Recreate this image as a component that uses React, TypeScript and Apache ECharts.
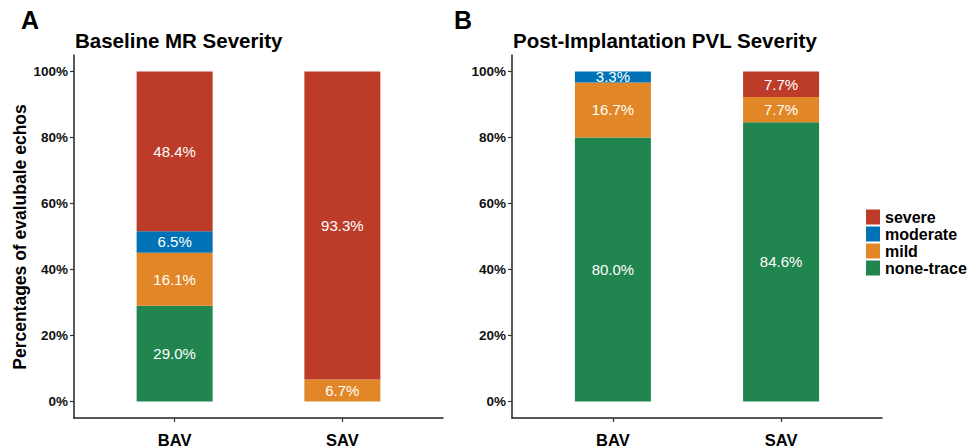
import React, { useEffect, useRef } from "react";
import * as echarts from "echarts";

const categories = ["BAV", "SAV"];
const severityNames = ["none-trace", "mild", "moderate", "severe"];
const legendOrder = ["severe", "moderate", "mild", "none-trace"];
const colors: Record<string, string> = {
  severe: "#BC3C29",
  moderate: "#0072B5",
  mild: "#E18727",
  "none-trace": "#20854E",
};
// Panel A: Baseline MR Severity (BAV, SAV)
const baselineNoneTrace = [29.0, 0];
const baselineMild = [16.1, 6.7];
const baselineModerate = [6.5, 0];
const baselineSevere = [48.4, 93.3];
// Panel B: Post-Implantation PVL Severity (BAV, SAV)
const pvlNoneTrace = [80.0, 84.6];
const pvlMild = [16.7, 7.7];
const pvlModerate = [3.3, 0];
const pvlSevere = [0, 7.7];
const yTicks = [0, 20, 40, 60, 80, 100];
const titleA = "Baseline MR Severity";
const titleB = "Post-Implantation PVL Severity";
const yTitle = "Percentages of evalubale echos";

const FONT = "Liberation Sans, Arial, sans-serif";

// discrete axis slots (ggplot-like spacing: 0.6 expansion, 0.2 step)
const SLOTS = 12;
const catSlot = [3, 8];

export default function App() {
  const ref = useRef<HTMLDivElement>(null);
  useEffect(() => {
    if (!ref.current) return;
    const chart = echarts.init(ref.current, undefined, { renderer: "svg" });
    const panelA = [baselineNoneTrace, baselineMild, baselineModerate, baselineSevere];
    const panelB = [pvlNoneTrace, pvlMild, pvlModerate, pvlSevere];
    const slotLabels = Array.from({ length: SLOTS }, (_, i) => {
      const k = catSlot.indexOf(i);
      return k >= 0 ? categories[k] : "";
    });
    const mkSeries = (vals: number[][], idx: number) =>
      severityNames.map((name, i) => {
        const data: (number | null)[] = Array.from({ length: SLOTS }, () => null);
        catSlot.forEach((s, j) => {
          data[s] = vals[i][j];
        });
        return {
          type: "bar",
          name,
          xAxisIndex: idx,
          yAxisIndex: idx,
          stack: "s" + idx,
          barWidth: 76,
          itemStyle: { color: colors[name] },
          label: {
            show: true,
            position: "inside",
            color: "#ffffff",
            fontFamily: FONT,
            fontSize: 15,
            formatter: (p: any) => (p.value > 0 ? Number(p.value).toFixed(1) + "%" : ""),
          },
          data,
        };
      });
    const xAxisBase = (gridIndex: number) => ({
      type: "category",
      gridIndex,
      data: slotLabels,
      boundaryGap: false,
      splitLine: { show: false },
      axisLine: { show: true, onZero: false, lineStyle: { color: "#222", width: 1.5 } },
      axisTick: {
        show: true,
        length: 4,
        interval: (i: number) => catSlot.includes(i),
        lineStyle: { color: "#333", width: 1.2 },
      },
      axisLabel: {
        interval: (i: number) => catSlot.includes(i),
        color: "#000",
        fontWeight: "bold",
        fontSize: 16.5,
        fontFamily: FONT,
        margin: 13,
      },
    });
    const yAxisBase = (gridIndex: number) => ({
      type: "value",
      gridIndex,
      min: -5,
      max: 105,
      splitLine: { show: false },
      axisLine: { show: true, onZero: false, lineStyle: { color: "#222", width: 1.5 } },
      axisTick: { show: true, length: 4, customValues: yTicks, lineStyle: { color: "#333", width: 1.2 } },
      axisLabel: {
        customValues: yTicks,
        formatter: (v: number) => v + "%",
        color: "#111",
        fontWeight: "bold",
        fontSize: 13.5,
        fontFamily: FONT,
        margin: 6,
      },
    });
    chart.setOption({
      animation: false,
      backgroundColor: "#ffffff",
      textStyle: { fontFamily: FONT },
      title: [
        { text: "A", left: 21, top: 7, padding: 0, textStyle: { fontSize: 25, fontWeight: "bold", color: "#000", fontFamily: FONT } },
        { text: titleA, left: 75, top: 30, padding: 0, textStyle: { fontSize: 20.5, fontWeight: "bold", color: "#000", fontFamily: FONT } },
        { text: "B", left: 454, top: 7, padding: 0, textStyle: { fontSize: 25, fontWeight: "bold", color: "#000", fontFamily: FONT } },
        { text: titleB, left: 513, top: 30, padding: 0, textStyle: { fontSize: 20.5, fontWeight: "bold", color: "#000", fontFamily: FONT } },
      ],
      legend: {
        data: legendOrder,
        orient: "vertical",
        left: 866,
        top: 209,
        padding: 0,
        icon: "rect",
        itemWidth: 14,
        itemHeight: 15,
        itemGap: 1,
        selectedMode: false,
        textStyle: { fontSize: 16, fontWeight: "bold", color: "#000", fontFamily: FONT },
      },
      grid: [
        { left: 74, top: 55, width: 369, height: 363 },
        { left: 512, top: 55, width: 370, height: 363 },
      ],
      xAxis: [xAxisBase(0), xAxisBase(1)],
      yAxis: [yAxisBase(0), yAxisBase(1)],
      graphic: [
        {
          type: "text",
          x: 20,
          y: 237,
          rotation: Math.PI / 2,
          style: {
            text: yTitle,
            fontSize: 17.5,
            fontWeight: "bold",
            fill: "#000",
            fontFamily: FONT,
            align: "center",
            verticalAlign: "middle",
          },
        },
      ],
      series: [...mkSeries(panelA, 0), ...mkSeries(panelB, 1)],
    });
    return () => chart.dispose();
  }, []);
  return <div ref={ref} style={{ position: "fixed", left: 0, top: 0, width: 978, height: 448 }} />;
}
